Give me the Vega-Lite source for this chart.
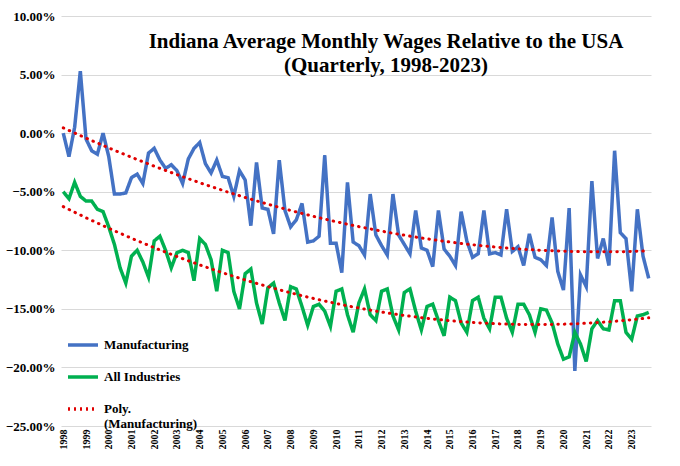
{
  "$schema": "https://vega.github.io/schema/vega-lite/v6.json",
  "width": 590,
  "height": 410,
  "padding": {"left": 5, "top": 10, "right": 10, "bottom": 0},
  "title": {
    "text": ["Indiana Average Monthly Wages Relative to the USA", "(Quarterly, 1998-2023)"],
    "font": "Liberation Serif", "fontSize": 21, "fontWeight": "bold", "color": "#000", "offset": -66, "lineHeight": 24, "dx": 30
  },
  "config": {"view": {"stroke": null}, "font": "Liberation Serif"},
  "data": {"values": [
    {"t":1998.0,"m":0.0,"a":-5.0},{"t":1998.25,"m":-2.0,"a":-5.6},{"t":1998.5,"m":0.5,"a":-4.2},{"t":1998.75,"m":5.3,"a":-5.4},
    {"t":1999.0,"m":-0.5,"a":-5.8},{"t":1999.25,"m":-1.5,"a":-5.8},{"t":1999.5,"m":-1.8,"a":-6.5},{"t":1999.75,"m":0.0,"a":-6.7},
    {"t":2000.0,"m":-2.0,"a":-8.0},{"t":2000.25,"m":-5.2,"a":-9.5},{"t":2000.5,"m":-5.2,"a":-11.5},{"t":2000.75,"m":-5.1,"a":-12.8},
    {"t":2001.0,"m":-3.8,"a":-10.5},{"t":2001.25,"m":-3.5,"a":-10.0},{"t":2001.5,"m":-4.3,"a":-11.0},{"t":2001.75,"m":-1.7,"a":-12.3},
    {"t":2002.0,"m":-1.3,"a":-9.2},{"t":2002.25,"m":-2.3,"a":-8.8},{"t":2002.5,"m":-3.0,"a":-10.0},{"t":2002.75,"m":-2.7,"a":-11.5},
    {"t":2003.0,"m":-3.2,"a":-10.2},{"t":2003.25,"m":-4.3,"a":-10.0},{"t":2003.5,"m":-2.2,"a":-10.2},{"t":2003.75,"m":-1.3,"a":-12.6},
    {"t":2004.0,"m":-0.8,"a":-9.0},{"t":2004.25,"m":-2.6,"a":-9.5},{"t":2004.5,"m":-3.4,"a":-10.8},{"t":2004.75,"m":-2.3,"a":-13.5},
    {"t":2005.0,"m":-3.7,"a":-10.0},{"t":2005.25,"m":-3.8,"a":-10.2},{"t":2005.5,"m":-5.4,"a":-13.5},{"t":2005.75,"m":-3.2,"a":-15.0},
    {"t":2006.0,"m":-4.0,"a":-12.0},{"t":2006.25,"m":-7.9,"a":-11.6},{"t":2006.5,"m":-2.5,"a":-14.5},{"t":2006.75,"m":-6.4,"a":-16.3},
    {"t":2007.0,"m":-6.5,"a":-13.2},{"t":2007.25,"m":-8.6,"a":-12.8},{"t":2007.5,"m":-2.3,"a":-14.5},{"t":2007.75,"m":-6.6,"a":-16.0},
    {"t":2008.0,"m":-8.0,"a":-13.1},{"t":2008.25,"m":-7.4,"a":-13.3},{"t":2008.5,"m":-6.0,"a":-14.8},{"t":2008.75,"m":-9.3,"a":-16.4},
    {"t":2009.0,"m":-9.2,"a":-14.8},{"t":2009.25,"m":-8.8,"a":-14.6},{"t":2009.5,"m":-1.9,"a":-15.2},{"t":2009.75,"m":-9.4,"a":-16.5},
    {"t":2010.0,"m":-9.4,"a":-13.5},{"t":2010.25,"m":-11.9,"a":-13.3},{"t":2010.5,"m":-4.2,"a":-15.5},{"t":2010.75,"m":-9.3,"a":-17.0},
    {"t":2011.0,"m":-9.6,"a":-14.5},{"t":2011.25,"m":-10.4,"a":-13.3},{"t":2011.5,"m":-5.2,"a":-15.5},{"t":2011.75,"m":-8.7,"a":-16.0},
    {"t":2012.0,"m":-9.6,"a":-13.5},{"t":2012.25,"m":-10.4,"a":-13.3},{"t":2012.5,"m":-5.2,"a":-15.6},{"t":2012.75,"m":-8.7,"a":-16.8},
    {"t":2013.0,"m":-9.5,"a":-13.6},{"t":2013.25,"m":-10.3,"a":-13.3},{"t":2013.5,"m":-6.6,"a":-15.2},{"t":2013.75,"m":-9.8,"a":-16.8},
    {"t":2014.0,"m":-10.0,"a":-14.8},{"t":2014.25,"m":-11.4,"a":-14.6},{"t":2014.5,"m":-6.6,"a":-16.0},{"t":2014.75,"m":-9.9,"a":-17.3},
    {"t":2015.0,"m":-10.5,"a":-14.0},{"t":2015.25,"m":-11.3,"a":-14.3},{"t":2015.5,"m":-6.7,"a":-16.2},{"t":2015.75,"m":-9.2,"a":-17.0},
    {"t":2016.0,"m":-10.6,"a":-14.3},{"t":2016.25,"m":-10.3,"a":-14.0},{"t":2016.5,"m":-6.6,"a":-15.8},{"t":2016.75,"m":-10.3,"a":-16.7},
    {"t":2017.0,"m":-10.2,"a":-14.0},{"t":2017.25,"m":-10.4,"a":-14.0},{"t":2017.5,"m":-6.5,"a":-15.8},{"t":2017.75,"m":-10.1,"a":-17.0},
    {"t":2018.0,"m":-9.7,"a":-14.6},{"t":2018.25,"m":-11.3,"a":-14.6},{"t":2018.5,"m":-8.6,"a":-15.5},{"t":2018.75,"m":-10.6,"a":-17.0},
    {"t":2019.0,"m":-10.8,"a":-15.0},{"t":2019.25,"m":-11.3,"a":-15.1},{"t":2019.5,"m":-7.2,"a":-16.2},{"t":2019.75,"m":-11.8,"a":-18.0},
    {"t":2020.0,"m":-13.4,"a":-19.3},{"t":2020.25,"m":-6.4,"a":-19.1},{"t":2020.5,"m":-20.3,"a":-17.0},{"t":2020.75,"m":-12.1,"a":-18.0},
    {"t":2021.0,"m":-13.1,"a":-19.5},{"t":2021.25,"m":-4.1,"a":-16.7},{"t":2021.5,"m":-10.7,"a":-16.0},{"t":2021.75,"m":-9.0,"a":-16.7},
    {"t":2022.0,"m":-11.3,"a":-16.8},{"t":2022.25,"m":-1.5,"a":-14.3},{"t":2022.5,"m":-8.5,"a":-14.3},{"t":2022.75,"m":-9.0,"a":-17.0},
    {"t":2023.0,"m":-13.5,"a":-17.6},{"t":2023.25,"m":-6.5,"a":-15.6},{"t":2023.5,"m":-10.5,"a":-15.5},{"t":2023.75,"m":-12.4,"a":-15.3}
  ]},
  "transform": [
    {"fold": ["m", "a"], "as": ["key", "v"]},
    {"lookup": "key", "from": {"data": {"values": [{"key": "m", "series": "Manufacturing"}, {"key": "a", "series": "All Industries"}]}, "key": "key", "fields": ["series"]}}
  ],
  "encoding": {
    "x": {"field": "t", "type": "quantitative", "scale": {"domain": [1997.9, 2023.85], "nice": false, "zero": false},
      "axis": {"values": [1998,1999,2000,2001,2002,2003,2004,2005,2006,2007,2008,2009,2010,2011,2012,2013,2014,2015,2016,2017,2018,2019,2020,2021,2022,2023],
        "format": "d", "labelAngle": -90, "labelFont": "Liberation Serif", "labelFontWeight": "bold", "labelFontSize": 10, "labelColor": "#000",
        "title": null, "grid": false, "domain": false, "ticks": false, "labelPadding": 3, "labelAlign": "right", "labelBaseline": "middle"}},
    "y": {"field": "v", "type": "quantitative", "scale": {"domain": [-25, 10], "nice": false},
      "axis": {"values": [-25,-20,-15,-10,-5,0,5,10], "labelExpr": "format(datum.value, '.2f') + '%'", "title": null,
        "labelFont": "Liberation Serif", "labelFontWeight": "bold", "labelFontSize": 13, "labelColor": "#000",
        "domain": false, "ticks": false, "gridColor": "#d9d9d9", "labelPadding": 6}}
  },
  "layer": [
    {"mark": {"type": "line", "strokeWidth": 3.5},
     "encoding": {
       "color": {"field": "series", "type": "nominal", "title": null,
         "scale": {"domain": ["Manufacturing", "All Industries", "Poly. (Manufacturing)"], "range": ["#4472c4", "#00b050", "#e00000"]},
         "legend": {"orient": "none", "legendX": 5, "legendY": 312, "symbolType": "stroke", "symbolSize": 900, "symbolStrokeWidth": 3.5,
           "labelFont": "Liberation Serif", "labelFontWeight": "bold", "labelFontSize": 13, "labelColor": "#000", "rowPadding": 8,
           "labelExpr": "datum.label == 'Poly. (Manufacturing)' ? ['Poly.', '(Manufacturing)'] : datum.label"}},
       "strokeDash": {"field": "series", "type": "nominal", "title": null,
         "scale": {"domain": ["Manufacturing", "All Industries", "Poly. (Manufacturing)"], "range": [[1, 0], [1, 0], [2, 4]]}, "legend": null}}},
    {"transform": [{"regression": "v", "on": "t", "method": "poly", "order": 2, "groupby": ["series"]}],
     "mark": {"type": "line", "strokeWidth": 3, "color": "#e00000", "strokeDash": [0.5, 6], "strokeCap": "round"},
     "encoding": {"detail": {"field": "series", "type": "nominal"}}},
    {"mark": {"type": "rule", "color": "#c00000", "strokeWidth": 1.5},
     "encoding": {"y": {"datum": 0}}}
  ]
}
